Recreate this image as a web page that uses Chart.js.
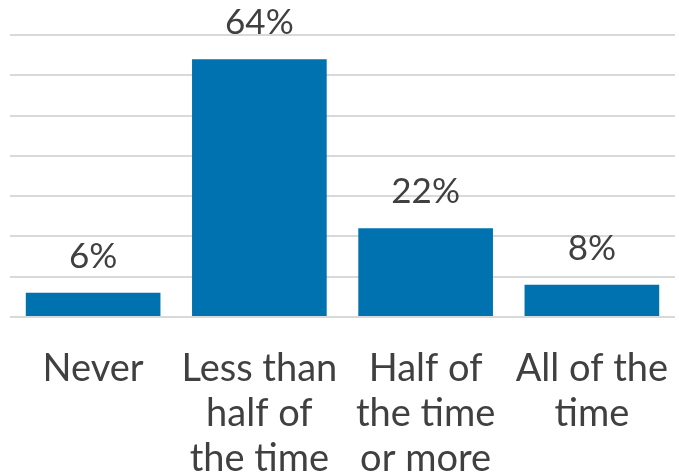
<!DOCTYPE html>
<html>
<head>
<meta charset="utf-8">
<script src="https://cdn.jsdelivr.net/npm/chart.js@4"></script>
<style>
  html, body { margin: 0; padding: 0; background: #fff; }
  #wrap { width: 679px; height: 474px; }
</style>
</head>
<body>
<div id="wrap"><canvas id="grafica"></canvas></div>
<script>
// datos del grafico
const categories = [
  ["Never"],
  ["Less than", "half of", "the time"],
  ["Half of", "the time", "or more"],
  ["All of the", "time"],
];
const values = [6, 64, 22, 8];
const yTicks = [0, 10, 20, 30, 40, 50, 60, 70];

const BLUE = "#0072AF";
const TEXT = "#404040";
const FONT = "Lato, 'Open Sans', sans-serif";

// Plugin simple para poner el % encima de cada barra
const valueLabels = {
  id: "valueLabels",
  afterDatasetsDraw(chart) {
    const ctx = chart.ctx;
    const meta = chart.getDatasetMeta(0);
    ctx.save();
    ctx.font = `35px ${FONT}`;
    ctx.fillStyle = TEXT;
    ctx.textAlign = "center";
    ctx.textBaseline = "alphabetic";
    meta.data.forEach((bar, i) => {
      ctx.fillText(values[i] + "%", bar.x, bar.y - 25);
    });
    ctx.restore();
  },
};

new Chart(document.getElementById("grafica"), {
  type: "bar",
  data: {
    labels: categories,
    datasets: [
      {
        data: values,
        backgroundColor: BLUE,
        borderWidth: 0,
        categoryPercentage: 1.0,
        barPercentage: 0.81,
      },
    ],
  },
  options: {
    responsive: true,
    maintainAspectRatio: false,
    animation: false,
    layout: { padding: { top: 35, left: 10, right: 4, bottom: 0 } },
    plugins: {
      legend: { display: false },
      tooltip: { enabled: false },
    },
    scales: {
      x: {
        grid: { display: false, drawTicks: false },
        border: { display: false },
        // alto fijo del eje para que el area quede en la misma posicion
        afterFit: (axis) => {
          axis.height = 157;
          axis.paddingLeft = 0;
          axis.paddingRight = 0;
        },
        ticks: {
          color: TEXT,
          padding: 29,
          maxRotation: 0,
          autoSkip: false,
          font: { family: FONT, size: 38, lineHeight: 1.19 },
        },
      },
      y: {
        min: yTicks[0],
        max: yTicks[yTicks.length - 1],
        afterBuildTicks: (axis) => {
          axis.ticks = yTicks.map((v) => ({ value: v }));
        },
        grid: { color: "#d9d9d9", lineWidth: 2, drawTicks: false },
        border: { display: false },
        ticks: { display: false },
      },
    },
  },
  plugins: [valueLabels],
});
</script>
</body>
</html>
